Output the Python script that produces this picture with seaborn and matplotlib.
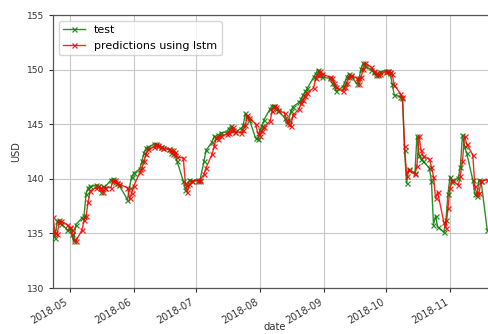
import matplotlib
matplotlib.use("Agg")
import matplotlib.pyplot as plt
import matplotlib.dates as mdates
import numpy as np
import pandas as pd
import seaborn as sns

# Trading days covered by the test window (NYSE holidays removed)
start_day = "2018-04-23"
end_day = "2018-11-19"
market_holidays = ["2018-05-28", "2018-07-04", "2018-09-03", "2018-11-22"]

# Closing prices of the test window (USD)
test_values = [
    # Apr
    135.2, 134.6, 136.1, 136.2, 135.9, 135.3,
    # May
    135.5, 134.9, 134.3, 135.8, 136.4, 136.6, 138.6, 139.2, 139.3, 139.4, 139.3,
    138.8, 139.3, 139.2, 139.9, 140.0, 139.7, 139.6, 139.4, 138.1, 139.2, 140.2,
    # Jun
    140.5, 140.9, 141.6, 142.4, 142.8, 142.9, 143.2, 143.2, 143.0, 142.9, 142.8,
    142.7, 142.4, 142.6, 142.2, 141.6, 139.8, 139.0, 139.4, 139.9, 139.8,
    # Jul
    139.9, 139.8, 141.6, 142.6, 143.4, 143.9, 143.7, 144.0, 144.2, 144.3, 144.6,
    144.8, 144.5, 144.3, 144.6, 144.9, 146.0, 145.7, 145.4, 143.7, 143.6,
    # Aug
    144.5, 144.8, 145.4, 146.4, 146.7, 146.7, 146.4, 146.2, 145.6, 145.1, 145.4,
    146.2, 146.6, 147.0, 147.3, 147.7, 148.0, 148.3, 149.3, 149.6, 150.0, 149.6,
    149.3,
    # Sep
    149.2, 148.8, 148.5, 148.0, 148.4, 148.8, 149.3, 149.6, 149.4, 148.7, 149.2,
    150.1, 150.6, 150.3, 150.0, 149.8, 149.5, 149.6, 149.8,
    # Oct
    149.9, 149.9, 149.7, 148.7, 147.7, 147.5, 147.4, 142.6, 139.6, 140.9, 140.5,
    143.9, 142.2, 141.8, 141.6, 141.0, 139.8, 135.8, 136.6, 135.6, 135.1, 136.2,
    138.6,
    # Nov
    140.2, 139.7, 140.1, 141.1, 144.0, 143.0, 142.4, 139.9, 138.6, 138.4, 139.9,
    139.8, 135.3,
]

# LSTM predictions for the same days (USD)
pred_values = [
    # Apr
    136.5, 135.0, 134.9, 136.0, 136.1, 135.8,
    # May
    135.6, 135.3, 134.5, 134.3, 135.3, 136.2, 136.6, 137.9, 138.9, 139.2, 139.3,
    139.2, 138.8, 139.2, 139.2, 139.8, 139.9, 139.6, 139.5, 139.2, 138.2, 138.7,
    # Jun
    139.3, 140.6, 141.0, 141.6, 142.3, 142.7, 142.9, 143.1, 143.1, 142.9, 142.8,
    142.7, 142.6, 142.3, 142.5, 142.0, 141.9, 139.6, 138.8, 139.5, 139.8,
    # Jul
    139.8, 139.9, 140.4, 141.0, 142.3, 143.0, 143.8, 143.6, 143.9, 144.1, 144.2,
    144.5, 144.7, 144.3, 144.2, 144.5, 144.9, 145.8, 145.6, 145.0, 144.2,
    # Aug
    143.9, 144.4, 144.7, 145.3, 146.2, 146.7, 146.6, 146.3, 146.0, 145.4, 145.0,
    144.8, 145.8, 146.4, 146.9, 147.2, 147.6, 147.9, 148.3, 149.2, 149.5, 149.9,
    149.6,
    # Sep
    149.3, 149.2, 148.8, 148.4, 148.0, 148.4, 148.8, 149.3, 149.5, 149.2, 148.7,
    149.3, 150.1, 150.6, 150.2, 149.9, 149.7, 149.5, 149.6,
    # Oct
    149.8, 149.9, 149.8, 149.6, 148.6, 147.8, 147.5, 143.0, 140.3, 140.8, 140.4,
    141.2, 143.9, 142.6, 142.1, 141.8, 141.1, 140.2, 138.2, 138.8, 136.0, 135.5,
    137.3,
    # Nov
    139.2, 139.9, 139.4, 140.3, 141.6, 143.9, 143.2, 142.2, 139.3, 138.6, 138.7,
    139.8, 139.9,
]

y_ticks = [130, 135, 140, 145, 150, 155]

dates = pd.bdate_range(start_day, end_day, freq="C", holidays=market_holidays)
df = pd.DataFrame({"date": dates, "test": test_values, "pred": pred_values})

fig = plt.figure(figsize=(4.88, 3.34), dpi=100)
ax = fig.add_axes([53 / 488, 1 - 288 / 334, (491.4 - 53) / 488, (288 - 15) / 334])
ax.set_facecolor("white")

sns.lineplot(data=df, x="date", y="test", ax=ax, color="green", label="test",
             marker="x", markersize=3.6, markeredgecolor="green",
             markeredgewidth=0.9, linewidth=1.0, alpha=0.85)
sns.lineplot(data=df, x="date", y="pred", ax=ax, color="red",
             label="predictions using lstm", marker="x", markersize=3.6,
             markeredgecolor="red", markeredgewidth=0.9, linewidth=1.0,
             alpha=0.85)

ax.set_xlim(pd.Timestamp("2018-04-23"), pd.Timestamp("2018-11-21"))
ax.set_ylim(130, 155)
ax.set_yticks(y_ticks)

ax.xaxis.set_major_locator(mdates.MonthLocator())
ax.xaxis.set_major_formatter(mdates.DateFormatter("%Y-%m"))
for lbl in ax.get_xticklabels():
    lbl.set_rotation(30)
    lbl.set_ha("right")

ax.grid(True, color="#c8c8c8", linewidth=0.8)
ax.set_axisbelow(True)
for side in ax.spines.values():
    side.set_color("#555555")
    side.set_linewidth(0.9)

ax.tick_params(axis="y", labelsize=6.6, colors="#333333", length=3, width=0.8)
ax.tick_params(axis="x", labelsize=7.0, colors="#333333", length=3, width=0.8)
ax.set_xlabel("date", fontsize=7.2, color="#333333")
ax.xaxis.set_label_coords(0.505, -0.125)
ax.set_ylabel("USD", fontsize=7.0, color="#333333", labelpad=4)

leg = ax.legend(loc="upper left", fontsize=8, frameon=True, handlelength=2)
leg.get_frame().set_edgecolor("#cccccc")

fig.savefig("out.png", dpi=100)
